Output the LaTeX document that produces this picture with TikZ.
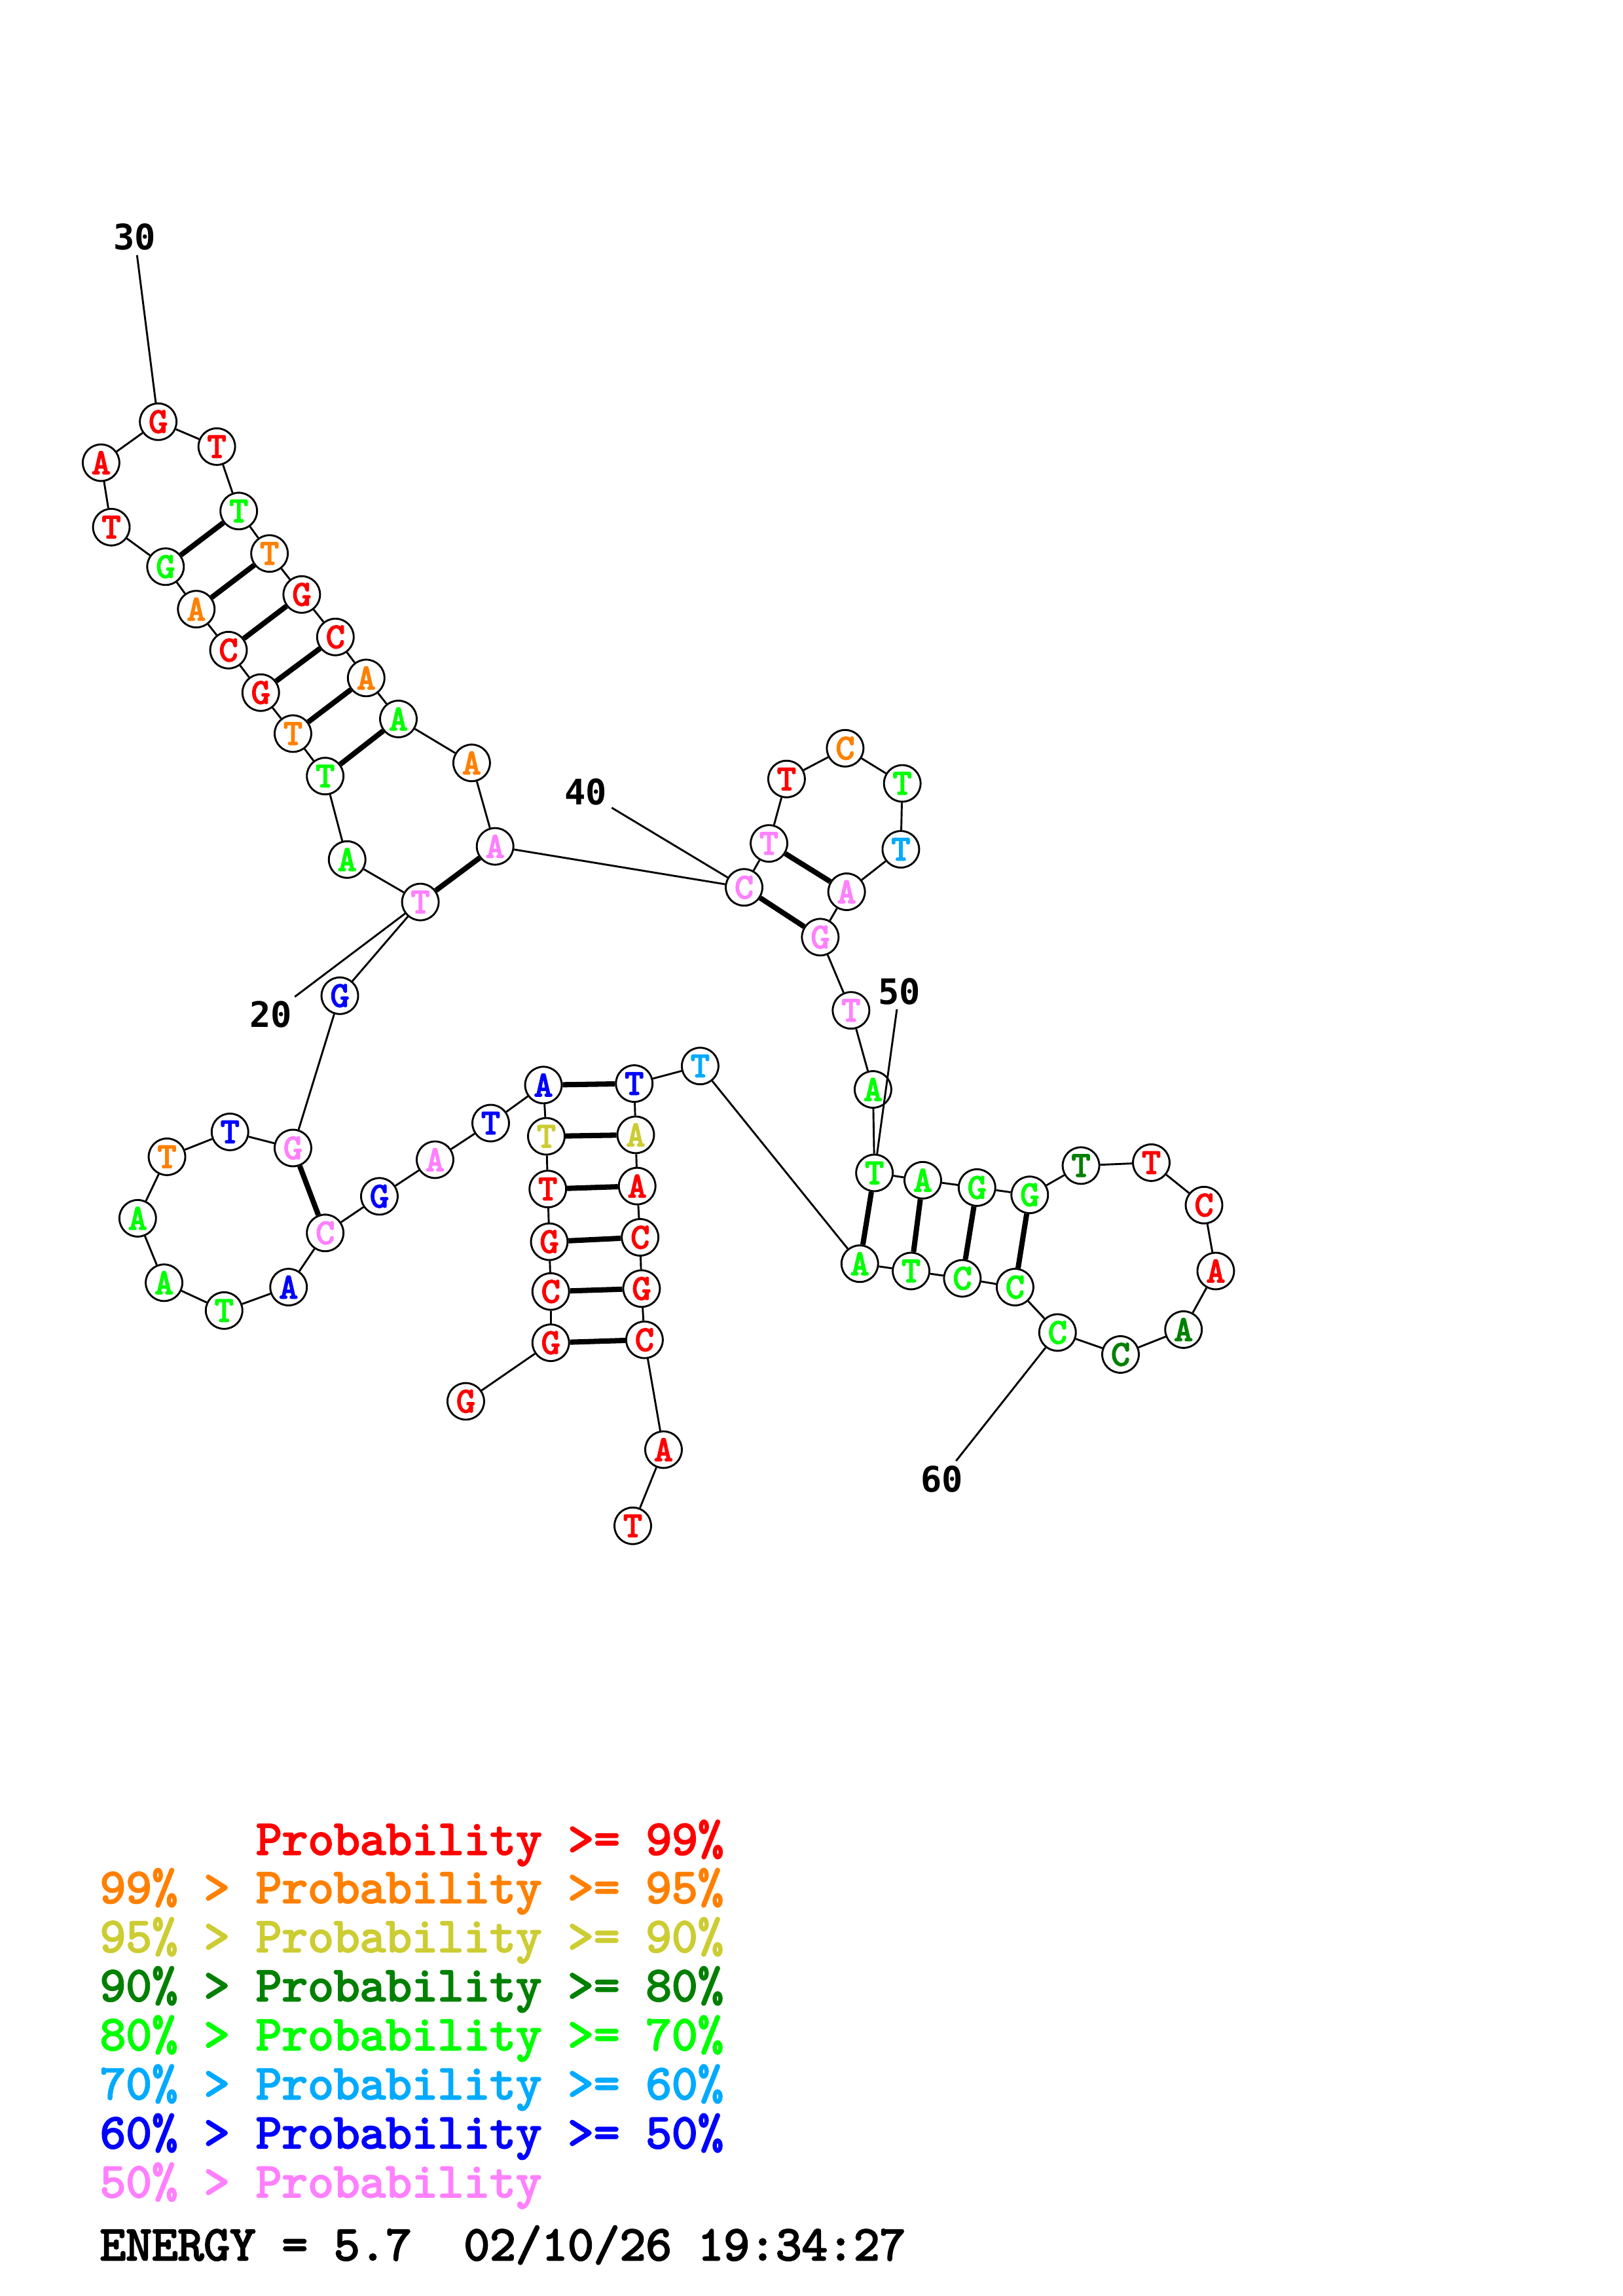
\documentclass[tikz,border=0pt]{standalone}
\usepackage{fontspec}
\newfontfamily\numfont{DejaVu Sans Mono}
\newfontfamily\courfont[FakeBold=3.5]{lmmono10-regular.otf}
\newfontfamily\legfont[FakeBold=3]{lmmono10-regular.otf}
\definecolor{cR}{RGB}{255,0,0}
\definecolor{cO}{RGB}{255,128,0}
\definecolor{cY}{RGB}{204,204,51}
\definecolor{cD}{RGB}{0,128,0}
\definecolor{cG}{RGB}{0,255,0}
\definecolor{cC}{RGB}{0,170,255}
\definecolor{cB}{RGB}{0,0,255}
\definecolor{cP}{RGB}{255,128,255}
\frenchspacing
\begin{document}
\begin{tikzpicture}[x=1pt,y=-1pt,
  nuc/.style={circle,draw=black,line width=1.3pt,fill=white,minimum size=25pt,inner sep=0pt,
    font=\courfont\fontsize{24.5}{24.5}\selectfont},
  bb/.style={line width=1.3pt},
  bp/.style={line width=3.6pt},
  lbl/.style={inner sep=3pt,font=\numfont\bfseries\fontsize{24}{24}\selectfont},
  leg/.style={anchor=base west,inner sep=0pt,font=\legfont\fontsize{33.8}{33.8}\selectfont}]
\useasboundingbox (0,0) rectangle (1108,1568);
% nucleotides
\foreach \i/\x/\y/\c/\t in {
 1/318/957/cR/G, 2/376/917/cR/G, 3/376/882/cR/C, 4/375/848/cR/G, 5/374/812/cR/T,
 6/373/776/cY/T, 7/371/741/cB/A, 8/335/767/cB/T, 9/297/792/cP/A, 10/259/817/cB/G,
 11/222/842/cP/C, 12/197/879/cB/A, 13/153/895/cG/T, 14/112/876/cG/A, 15/94/832/cG/A,
 16/114/790/cO/T, 17/157/773/cB/T, 18/200/784/cP/G, 19/232/680/cB/G, 20/287/616/cP/T,
 21/237/587/cG/A, 22/222/530/cG/T, 23/200/501/cO/T, 24/178/473/cR/G, 25/156/444/cR/C,
 26/134/416/cO/A, 27/113/387/cG/G, 28/76/360/cR/T, 29/69/316/cR/A, 30/108/288/cR/G,
 31/148/305/cR/T, 32/163/349/cG/T, 33/184/378/cO/T, 34/206/406/cR/G, 35/229/435/cR/C,
 36/250/463/cO/A, 37/272/491/cG/A, 38/322/521/cO/A, 39/338/578/cP/A, 40/508/606/cP/C,
 41/525/576/cP/T, 42/537/532/cR/T, 43/577/511/cO/C, 44/616/535/cG/T, 45/615/580/cC/T,
 46/578/609/cP/A, 47/560/640/cP/G, 48/581/690/cP/T, 49/596/744/cG/A, 50/597/801/cG/T,
 51/630/806/cG/A, 52/667/811/cG/G, 53/703/816/cG/G, 54/738/796/cD/T, 55/786/794/cR/T,
 56/822/823/cR/C, 57/830/868/cR/A, 58/808/908/cD/A, 59/765/925/cD/C, 60/722/910/cG/C,
 61/693/879/cG/C, 62/657/873/cG/C, 63/622/868/cG/T, 64/587/863/cG/A, 65/478/728/cC/T,
 66/433/740/cB/T, 67/434/775/cY/A, 68/435/810/cR/A, 69/437/845/cR/C, 70/438/880/cR/G,
 71/440/915/cR/C, 72/453/990/cR/A, 73/432/1042/cR/T}
 {\node[nuc,text=\c] (n\i) at (\x,\y) {\t};}
% backbone
\foreach \i [evaluate=\i as \j using int(\i+1)] in {1,...,72}
 {\draw[bb] (n\i) -- (n\j);}
% base pairs
\foreach \a/\b in {2/71,3/70,4/69,5/68,6/67,7/66,11/18,20/39,22/37,23/36,24/35,25/34,
 26/33,27/32,40/47,41/46,50/64,51/63,52/62,53/61}
 {\draw[bp] (n\a) -- (n\b);}
% numbering labels
\node[lbl] (l20) at (185,693) {20};
\node[lbl] (l30) at (92,162) {30};
\node[lbl] (l40) at (400,541) {40};
\node[lbl] (l50) at (614,677) {50};
\node[lbl] (l60) at (643,1010) {60};
\foreach \k in {20,30,40,50,60} {\draw[bb] (l\k) -- (n\k);}
% legend
\node[leg,text=cR] (g1) at (174.6,1266.5) {Probability >= 99\%};
\node[leg,text=cO] (g2) at (68,1299.5) {99\% > Probability >= 95\%};
\node[leg,text=cY] (g3) at (68,1333) {95\% > Probability >= 90\%};
\node[leg,text=cD] (g4) at (68,1366.5) {90\% > Probability >= 80\%};
\node[leg,text=cG] (g5) at (68,1400) {80\% > Probability >= 70\%};
\node[leg,text=cC] (g6) at (68,1433.5) {70\% > Probability >= 60\%};
\node[leg,text=cB] (g7) at (68,1467) {60\% > Probability >= 50\%};
\node[leg,text=cP] (g8) at (68,1500.5) {50\% > Probability};
\node[leg,text=black] (en) at (68,1543.5) {ENERGY = 5.7\ \ 02/10/26 19:34:27};
\end{tikzpicture}
\end{document}
